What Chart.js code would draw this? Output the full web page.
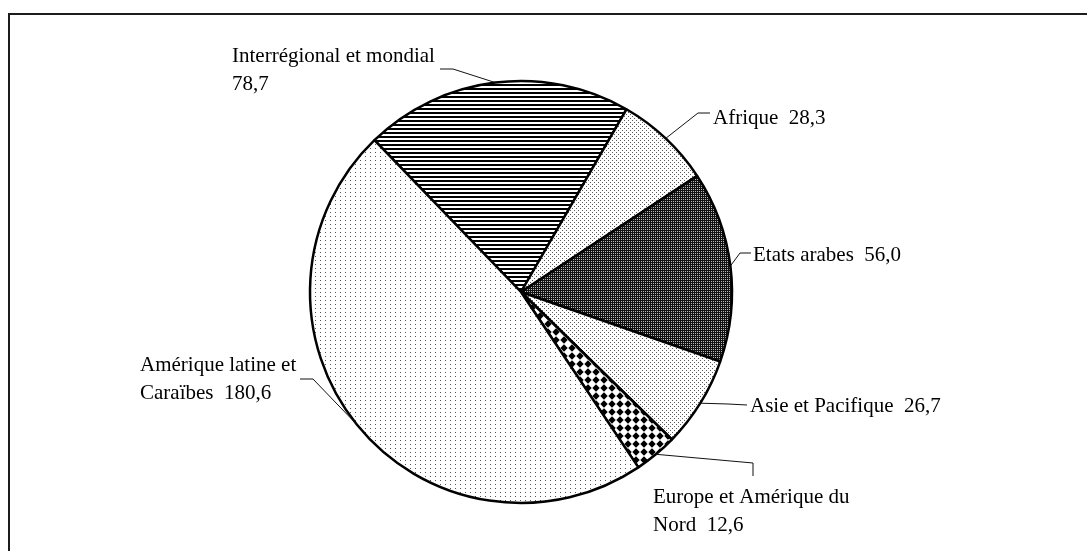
<!DOCTYPE html>
<html lang="fr">
<head>
<meta charset="utf-8">
<title>Répartition par région</title>
<script src="https://cdn.jsdelivr.net/npm/chart.js@4/dist/chart.umd.min.js"></script>
<style>
  html, body { margin: 0; padding: 0; background: #fff; overflow: hidden; }
  #wrap { position: relative; width: 1087px; height: 551px; }
  #frame {
    position: absolute; left: 8px; top: 13px;
    width: 1200px; height: 700px;
    border: 2px solid #1c1c1c; box-sizing: border-box;
  }
  #chart { position: absolute; left: 0; top: 0; }
</style>
</head>
<body>
<div id="wrap">
  <div id="frame"></div>
  <canvas id="chart" width="1087" height="551"></canvas>
</div>
<script>
// Régions et montants
const categories = [
  'Interrégional et mondial',
  'Afrique',
  'Etats arabes',
  'Asie et Pacifique',
  'Europe et Amérique du Nord',
  'Amérique latine et Caraïbes'
];
const values = [78.7, 28.3, 56.0, 26.7, 12.6, 180.6];

// Line breaks of each label (the value is appended to the last line,
// or placed on its own line when valueOwnLine is set)
const labelNameLines = [
  ['Interrégional et mondial'],
  ['Afrique'],
  ['Etats arabes'],
  ['Asie et Pacifique'],
  ['Europe et Amérique du', 'Nord'],
  ['Amérique latine et', 'Caraïbes']
];
const valueOwnLine = [true, false, false, false, false, false];

// Label placement: text origin (left, first baseline) and leader elbow points
const labelLayout = [
  { x: 232, y: 62,  path: [[453, 69], [440, 69]] },
  { x: 713, y: 124, path: [[698, 113], [710, 113]] },
  { x: 753, y: 261, path: [[740, 253], [751, 253]] },
  { x: 750, y: 412, path: [[728, 404], [747, 405]] },
  { x: 653, y: 503, path: [[753, 463], [753, 476]] },
  { x: 140, y: 371, path: [[313, 379], [300, 379]] }
];

function fmt(v) { return v.toFixed(1).replace('.', ','); }

// Monochrome fill patterns
function makePattern(w, h, paint) {
  const c = document.createElement('canvas');
  c.width = w; c.height = h;
  const g = c.getContext('2d');
  g.fillStyle = '#fff';
  g.fillRect(0, 0, w, h);
  paint(g);
  return g.createPattern(c, 'repeat');
}
const ctx0 = document.getElementById('chart').getContext('2d');

const patStripes = makePattern(4, 4, g => {
  g.fillStyle = '#000';
  g.fillRect(0, 0, 4, 2);
});
const patDotsDense = makePattern(4, 4, g => {
  g.fillStyle = '#5a5a5a';
  g.fillRect(0, 0, 1, 1);
  g.fillRect(2, 2, 1, 1);
});
const patDark = makePattern(2, 2, g => {
  g.fillStyle = '#111';
  g.fillRect(0, 0, 2, 2);
  g.fillStyle = '#bbb';
  g.fillRect(1, 1, 1, 1);
});
const patDiamond = makePattern(8, 8, g => {
  g.fillStyle = '#000';
  g.beginPath();
  g.moveTo(4, 0.3); g.lineTo(7.7, 4); g.lineTo(4, 7.7); g.lineTo(0.3, 4);
  g.closePath();
  g.fill();
});
const patDotsSparse = makePattern(5, 4, g => {
  g.fillStyle = '#555';
  g.fillRect(0, 0, 1, 1);
});

const fills = [patStripes, patDotsDense, patDark, patDotsDense, patDiamond, patDotsSparse];

// Leader lines and texts drawn next to each slice
const calloutPlugin = {
  id: 'callouts',
  afterDatasetsDraw(chart) {
    const ctx = chart.ctx;
    const meta = chart.getDatasetMeta(0);
    ctx.save();
    ctx.font = '21px "Liberation Serif", "Times New Roman", serif';
    ctx.fillStyle = '#000';
    ctx.strokeStyle = '#111';
    ctx.lineWidth = 1;
    ctx.textBaseline = 'alphabetic';
    ctx.textAlign = 'left';
    meta.data.forEach((arc, i) => {
      const p = arc.getProps(['x', 'y', 'startAngle', 'endAngle', 'outerRadius'], true);
      const mid = (p.startAngle + p.endAngle) / 2;
      const ax = p.x + Math.cos(mid) * p.outerRadius;
      const ay = p.y + Math.sin(mid) * p.outerRadius;
      const lay = labelLayout[i];
      ctx.beginPath();
      ctx.moveTo(ax, ay);
      lay.path.forEach(pt => ctx.lineTo(pt[0], pt[1]));
      ctx.stroke();

      const lines = labelNameLines[i].slice();
      const v = fmt(chart.data.datasets[0].data[i]);
      if (valueOwnLine[i]) lines.push(v);
      else lines[lines.length - 1] = lines[lines.length - 1] + '  ' + v;
      lines.forEach((t, k) => ctx.fillText(t, lay.x, lay.y + k * 28));
    });
    ctx.restore();
  }
};

new Chart(ctx0, {
  type: 'pie',
  data: {
    labels: categories,
    datasets: [{
      data: values,
      backgroundColor: fills,
      borderColor: '#000',
      borderWidth: 2.5
    }]
  },
  options: {
    responsive: false,
    animation: false,
    events: [],
    rotation: -44,
    radius: 211,
    layout: { padding: { left: 0, right: 45, top: 33, bottom: 0 } },
    plugins: {
      legend: { display: false },
      tooltip: { enabled: false },
      title: { display: false }
    }
  },
  plugins: [calloutPlugin]
});
</script>
</body>
</html>
